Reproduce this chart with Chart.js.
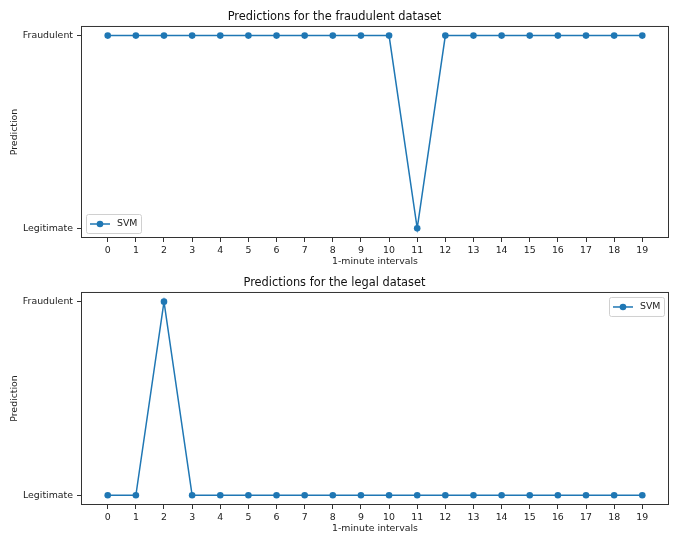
<!DOCTYPE html>
<html>
<head>
<meta charset="utf-8">
<script src="https://cdn.jsdelivr.net/npm/chart.js@4.4.1/dist/chart.umd.min.js"></script>
<style>
  html, body { margin: 0; padding: 0; background: #fff; }
  .panel { position: relative; width: 675px; height: 266px; }
  .panel.second { height: 267px; }
</style>
</head>
<body>
<div class="panel"><canvas id="chart-fraud"></canvas></div>
<div class="panel second"><canvas id="chart-legal"></canvas></div>
<script>
// Data
const intervals = [0, 1, 2, 3, 4, 5, 6, 7, 8, 9, 10, 11, 12, 13, 14, 15, 16, 17, 18, 19];
const predictionLabels = ['Legitimate', 'Fraudulent']; // 0, 1
const fraudPredictions = [1, 1, 1, 1, 1, 1, 1, 1, 1, 1, 1, 0, 1, 1, 1, 1, 1, 1, 1, 1];
const legalPredictions = [0, 0, 1, 0, 0, 0, 0, 0, 0, 0, 0, 0, 0, 0, 0, 0, 0, 0, 0, 0];
const seriesName = 'SVM';

const BLUE = '#1f77b4';
const FONT = 'DejaVu Sans';
const SMALL = 9.4;

// frame around the plot area + matplotlib-like legend inside it
const framePlugin = {
  id: 'frameLegend',
  afterDraw(chart, args, opts) {
    const { ctx, chartArea: a } = chart;
    ctx.save();
    ctx.strokeStyle = '#333';
    ctx.lineWidth = 1;
    ctx.strokeRect(a.left + 0.5, a.top + 0.5, a.right - a.left - 1, a.bottom - a.top - 1);

    const w = 55, h = 19;
    let x, y;
    if (opts.corner === 'bottom-left') { x = a.left + 5; y = a.bottom - h - 5; }
    else { x = a.right - w - 5; y = a.top + 5; }
    ctx.fillStyle = 'rgba(255,255,255,0.8)';
    ctx.strokeStyle = '#d0d0d0';
    ctx.beginPath();
    ctx.roundRect(x + 0.5, y + 0.5, w, h, 2);
    ctx.fill();
    ctx.stroke();
    const cy = y + h / 2 + 0.5;
    ctx.strokeStyle = BLUE;
    ctx.lineWidth = 1.5;
    ctx.beginPath();
    ctx.moveTo(x + 4, cy);
    ctx.lineTo(x + 24, cy);
    ctx.stroke();
    ctx.fillStyle = BLUE;
    ctx.beginPath();
    ctx.arc(x + 14, cy, 3.3, 0, Math.PI * 2);
    ctx.fill();
    ctx.fillStyle = '#222';
    ctx.font = SMALL + 'px "' + FONT + '"';
    ctx.textBaseline = 'middle';
    ctx.fillText(chart.data.datasets[0].label, x + 31, cy);
    ctx.restore();
  }
};

function makeChart(id, title, values, corner) {
  return new Chart(document.getElementById(id), {
    type: 'line',
    data: {
      datasets: [{
        label: seriesName,
        data: intervals.map((t, i) => ({ x: t, y: values[i] })),
        borderColor: BLUE,
        backgroundColor: BLUE,
        borderWidth: 1.5,
        pointRadius: 3.3,
        pointHoverRadius: 3.3,
        pointBorderWidth: 0,
        tension: 0
      }]
    },
    options: {
      responsive: true,
      maintainAspectRatio: false,
      animation: false,
      layout: { padding: { right: 6, left: 0, top: 0, bottom: 0 } },
      plugins: {
        legend: { display: false },
        tooltip: { enabled: false },
        title: {
          display: true,
          text: title,
          color: '#111',
          font: { family: FONT, size: 11.4, weight: 'normal', lineHeight: 1.2 },
          padding: { top: 10, bottom: 2.3 }
        },
        frameLegend: { corner }
      },
      scales: {
        x: {
          type: 'linear',
          min: -0.95,
          max: 19.95,
          afterBuildTicks: (s) => { s.ticks = intervals.map(v => ({ value: v })); },
          afterFit: (s) => { s.height = 28; },
          ticks: {
            color: '#222',
            font: { family: FONT, size: SMALL },
            padding: 3,
            maxRotation: 0,
            autoSkip: false,
            callback: (v) => String(v)
          },
          grid: { drawOnChartArea: false, tickLength: 4, color: '#333' },
          border: { display: false },
          title: {
            display: true,
            text: '1-minute intervals',
            color: '#222',
            font: { family: FONT, size: SMALL, lineHeight: 0.85 },
            padding: { top: 0, bottom: 0 }
          }
        },
        y: {
          type: 'linear',
          min: -0.05,
          max: 1.05,
          afterBuildTicks: (s) => { s.ticks = [{ value: 0 }, { value: 1 }]; },
          afterFit: (s) => { s.width = 81; },
          ticks: {
            color: '#222',
            font: { family: FONT, size: SMALL },
            padding: 4,
            callback: (v) => predictionLabels[v]
          },
          grid: { drawOnChartArea: false, tickLength: 4, color: '#333' },
          border: { display: false },
          title: {
            display: true,
            text: 'Prediction',
            color: '#222',
            font: { family: FONT, size: SMALL },
            padding: { top: 9, bottom: 0 }
          }
        }
      }
    },
    plugins: [framePlugin]
  });
}

makeChart('chart-fraud', 'Predictions for the fraudulent dataset', fraudPredictions, 'bottom-left');
makeChart('chart-legal', 'Predictions for the legal dataset', legalPredictions, 'top-right');
</script>
</body>
</html>
